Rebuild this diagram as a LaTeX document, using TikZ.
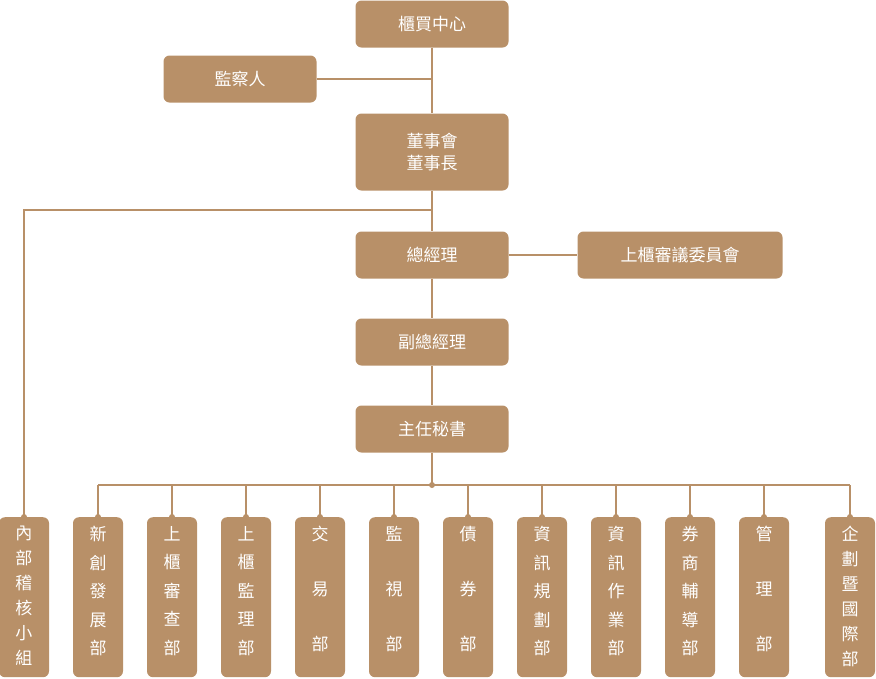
\documentclass[tikz,border=0pt]{standalone}
\usepackage{fontspec}
\newfontfamily\cjk{Noto Sans CJK TC}
\usetikzlibrary{positioning}
\definecolor{tan}{HTML}{B89068}
\tikzset{
  unit/.style={fill=tan, rounded corners=6pt, text=white, font=\cjk\fontsize{17}{22}\selectfont,
    minimum width=153pt, minimum height=47pt, inner sep=0pt, align=center},
  dept/.style={fill=tan, rounded corners=6pt, text=white, minimum width=50pt, minimum height=160pt,
    inner sep=0pt, anchor=north},
  link/.style={draw=tan, line width=2.2pt},
  dot/.style={circle, fill=tan, inner sep=0pt, minimum size=6pt}
}
\newcommand{\vtext}[2]{\parbox[t][146pt][t]{20pt}{\centering\cjk\fontsize{17}{#1}\selectfont #2}}
\begin{document}
\begin{tikzpicture}[x=1pt,y=-1pt]
\useasboundingbox (0,0) rectangle (876,678);
% upper units
\node[unit] (otc) at (432,24) {櫃買中心};
\node[unit] (audit) at (240,79) {監察人};
\node[unit, minimum height=77pt] (board) at (432,152) {董事會\\董事長};
\node[unit] (pres) at (432,255) {總經理};
\node[unit, minimum width=205pt] (cmte) at (680,255) {上櫃審議委員會};
\node[unit] (vp) at (432,342) {副總經理};
\node[unit] (sec) at (432,429) {主任秘書};
\draw[link] (otc) -- (board);
\draw[link] (audit.east) -- (432,79);
\draw[link] (board) -- (pres);
\draw[link] (pres) -- (cmte);
\draw[link] (pres) -- (vp);
\draw[link] (vp) -- (sec);
% departments
\coordinate (bus) at (432,485);
\draw[link] (sec) -- (bus);
\node[dot] at (bus) {};
\foreach \x/\name/\sp/\txt in {
  24/inaudit/25/內\\部\\稽\\核\\小\\組,
  98/newdev/28.5/新\\創\\發\\展\\部,
  172/review/28.5/上\\櫃\\審\\查\\部,
  246/supv/28.5/上\\櫃\\監\\理\\部,
  320/trade/55/交\\易\\部,
  394/watch/55/監\\視\\部,
  468/bond/55/債\\券\\部,
  542/itplan/28.5/資\\訊\\規\\劃\\部,
  616/itops/28.5/資\\訊\\作\\業\\部,
  690/broker/28.5/券\\商\\輔\\導\\部,
  764/admin/55/管\\理\\部,
  850/intl/25/企\\劃\\暨\\國\\際\\部}{
  \node[dept] (\name) at (\x,517) {};
  \node[anchor=north, inner sep=0pt, text=white] at (\x,526) {\vtext{\sp pt}{\txt}};
  \node[dot] at (\name.north) {};
}
\draw[link] (98,485) -- (850,485);
\foreach \x in {98,172,246,320,394,468,542,616,690,764,850}
  \draw[link] (\x,485) -- (\x,517);
\draw[link] (432,210) -| (inaudit.north);
\end{tikzpicture}
\end{document}
